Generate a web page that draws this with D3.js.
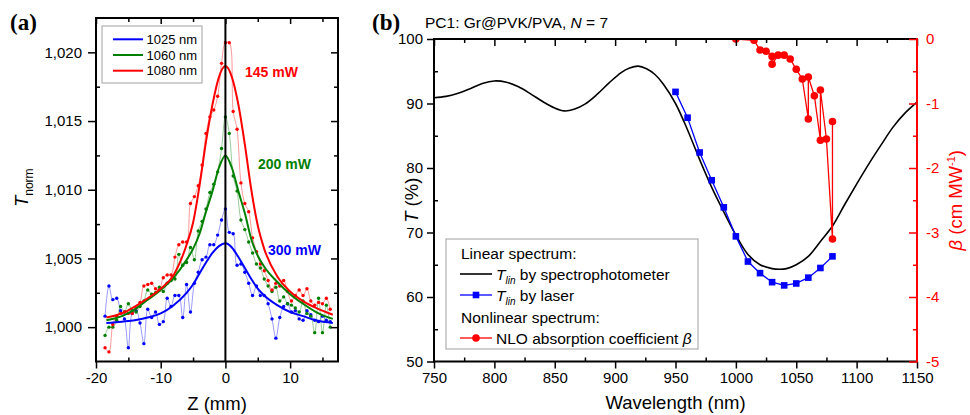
<!DOCTYPE html>
<html>
<head>
<meta charset="utf-8">
<script src="https://cdn.jsdelivr.net/npm/d3@7"></script>
<style>
body { margin: 0; background: #fff; }
svg { display: block; font-family: Arial, "Liberation Sans", sans-serif; }
</style>
</head>
<body>
<svg id="chart" width="970" height="415"></svg>
<script>
"use strict";

// ---- panel (a): z-scan, normalised transmittance ----
const zPos = [-18.6, -18.0, -17.4, -16.8, -16.2, -15.6, -15.0, -14.4, -13.8, -13.2,
    -12.6, -12.0, -11.4, -10.8, -10.2, -9.6, -9.0, -8.4, -7.8, -7.2,
    -6.6, -6.0, -5.4, -4.8, -4.2, -3.6, -3.0, -2.4, -1.8, -1.2,
    -0.6, 0, 0.6, 1.2, 1.8, 2.4, 3.0, 3.6, 4.2, 4.8,
    5.4, 6.0, 6.6, 7.2, 7.8, 8.4, 9.0, 9.6, 10.2, 10.8,
    11.4, 12.0, 12.6, 13.2, 13.8, 14.4, 15.0, 15.6, 16.2];

const tBlue = [1.0008, 1.0030, 1.0020, 1.0021, 1.0012, 1.0006, 0.9985, 1.0010, 1.0012, 1.0003,
    0.9988, 1.0013, 1.0007, 1.0011, 1.0002, 1.0004, 1.0021, 1.0015, 1.0023, 1.0023,
    1.0007, 1.0031, 1.0011, 1.0032, 1.0040, 1.0049, 1.0051, 1.0060, 1.0060, 1.0067,
    1.0078, 1.0086, 1.0069, 1.0068, 1.0045, 1.0046, 1.0040, 1.0032, 1.0023, 1.0030,
    1.0023, 1.0023, 1.0017, 1.0006, 0.9992, 1.0007, 1.0015, 1.0017, 1.0011, 1.0012,
    1.0006, 1.0005, 1.0012, 1.0009, 1.0005, 1.0004, 1.0008, 1.0005, 1.0004];

const tGreen = [0.9994, 1.0000, 1.0000, 1.0005, 1.0015, 1.0011, 1.0017, 1.0012, 1.0011, 1.0015,
    1.0019, 1.0027, 1.0024, 1.0025, 1.0029, 1.0026, 1.0032, 1.0034, 1.0035, 1.0053,
    1.0045, 1.0047, 1.0058, 1.0049, 1.0070, 1.0077, 1.0086, 1.0098, 1.0104, 1.0113,
    1.0130, 1.0153, 1.0141, 1.0110, 1.0099, 1.0078, 1.0071, 1.0062, 1.0054, 1.0046,
    1.0043, 1.0035, 1.0030, 1.0026, 1.0029, 1.0019, 1.0022, 1.0017, 1.0016, 1.0014,
    1.0011, 1.0019, 1.0010, 1.0008, 0.9996, 1.0021, 0.9996, 1.0016, 1.0000];

const tRed = [0.9985, 0.9982, 1.0002, 1.0008, 1.0010, 1.0011, 1.0010, 1.0010, 1.0014, 1.0018,
    1.0030, 1.0031, 1.0032, 1.0028, 1.0027, 1.0036, 1.0038, 1.0038, 1.0051, 1.0060,
    1.0062, 1.0062, 1.0090, 1.0095, 1.0103, 1.0118, 1.0141, 1.0153, 1.0158, 1.0168,
    1.0192, 1.0207, 1.0207, 1.0157, 1.0144, 1.0105, 1.0090, 1.0084, 1.0065, 1.0055,
    1.0046, 1.0041, 1.0034, 1.0027, 1.0032, 1.0030, 1.0034, 1.0026, 1.0019, 1.0023,
    1.0027, 1.0023, 1.0028, 1.0019, 1.0016, 1.0018, 1.0017, 1.0021, 1.0013];

// fitted curves
const fitZ = [-18.4, -16, -14, -12, -10, -8, -6, -5, -4, -3, -2, -1, 0,
    1, 2, 3, 4, 5, 6, 8, 10, 12, 14, 16.6];
const fitBlue = [1.0003, 1.0004, 1.0005, 1.0007, 1.0010, 1.0016, 1.0025, 1.0031, 1.0039, 1.0047, 1.0054, 1.0059, 1.0061,
    1.0058, 1.0051, 1.0043, 1.0035, 1.0028, 1.0023, 1.0016, 1.0011, 1.0008, 1.0005, 1.0003];
const fitGreen = [1.0005, 1.0008, 1.0013, 1.0020, 1.0027, 1.0036, 1.0049, 1.0057, 1.0068, 1.0084, 1.0099, 1.0116, 1.0125,
    1.0116, 1.0099, 1.0083, 1.0064, 1.0052, 1.0044, 1.0033, 1.0024, 1.0017, 1.0011, 1.0006];
const fitRed = [1.0007, 1.0010, 1.0015, 1.0021, 1.0028, 1.0038, 1.0060, 1.0076, 1.0103, 1.0135, 1.0162, 1.0182, 1.0190,
    1.0182, 1.0162, 1.0133, 1.0100, 1.0074, 1.0057, 1.0037, 1.0026, 1.0019, 1.0014, 1.0009];

const zTicks = [-20, -10, 0, 10],
    zMinor = [-15, -5, 5, 15];
const tnTicks = [1.000, 1.005, 1.010, 1.015, 1.020],
    tnMinor = [1.0025, 1.0075, 1.0125, 1.0175];
const waveNames = ["1025 nm", "1060 nm", "1080 nm"];
const powerNames = ["300 mW", "200 mW", "145 mW"];

// ---- panel (b): spectra ----
const specNm = [750, 760, 770, 780, 790, 800, 810, 820, 830, 840, 850, 858, 866, 875, 885, 895, 905, 912, 919, 926,
    933, 940, 950, 960, 970, 980, 990, 1000, 1010, 1020, 1030, 1036, 1042, 1050, 1060, 1070, 1080, 1090, 1100, 1110,
    1120, 1130, 1140, 1150];
const specT = [90.9, 91.1, 91.6, 92.3, 93.1, 93.5, 93.3, 92.6, 91.5, 90.3, 89.3, 88.85, 89.1, 89.9, 91.4, 93.2, 94.8, 95.5, 95.8, 95.4,
    94.5, 93.0, 90.0, 85.9, 81.3, 77.0, 73.2, 69.6, 66.6, 65.0, 64.4, 64.3, 64.4, 65.0, 66.3, 68.6, 71.0, 74.3, 77.5, 80.6,
    83.5, 86.3, 88.5, 90.2];

const laserNm = [950, 960, 970, 980, 990, 1000, 1010, 1020, 1030, 1040, 1050, 1060, 1070, 1080];
const laserT = [91.8, 87.8, 82.4, 78.1, 73.9, 69.4, 65.5, 63.7, 62.3, 61.8, 62.1, 63.0, 64.5, 66.3];

const betaNm = [1000, 1015, 1020, 1025, 1030, 1030, 1035, 1040, 1045, 1050, 1055, 1060, 1060, 1065, 1070, 1070, 1075, 1080, 1080];
const betaVal = [0.00, -0.02, -0.17, -0.19, -0.27, -0.39, -0.25, -0.25, -0.31, -0.47, -0.62, -1.24, -0.59, -0.88, -1.57, -0.79, -1.55, -3.10, -1.28];

const wlTicks = [750, 800, 850, 900, 950, 1000, 1050, 1100, 1150],
    wlMinor = [775, 825, 875, 925, 975, 1025, 1075, 1125];
const tTicks = [50, 60, 70, 80, 90, 100],
    tMinor = [55, 65, 75, 85, 95];
const bTicks = [0, -1, -2, -3, -4, -5],
    bMinor = [-0.5, -1.5, -2.5, -3.5, -4.5];

const BLUE = "#0000ff", GREEN = "#008000", RED = "#ff0000";

const svg = d3.select("#chart");

// small helper: one set of ticks (major or minor) without domain line
function addAxis(parent, gen, tr, values, size, fmt, color, pad) {
    const g = parent.append("g").attr("transform", tr);
    gen.tickValues(values)
        .tickSize(size)
        .tickSizeOuter(0)
        .tickPadding(pad || 3)
        .tickFormat(fmt || (() => ""));
    g.call(gen);
    g.select(".domain").remove();
    g.attr("font-size", 15).attr("font-family", null);
    g.selectAll(".tick line").attr("stroke", color || "#000").attr("stroke-width", 1.5);
    g.selectAll(".tick text").attr("fill", color || "#000");
    return g;
}

// =========================== panel (a)
const A = { left: 96, right: 338, top: 18, bottom: 361.5 };
const xA = d3.scaleLinear().domain([-20, 17.4]).range([A.left, A.right]);
const yA = d3.scaleLinear().domain([0.9975, 1.0225]).range([A.bottom, A.top]);

const pa = svg.append("g");

pa.append("clipPath").attr("id", "clipA")
    .append("rect")
    .attr("x", A.left).attr("y", A.top)
    .attr("width", A.right - A.left).attr("height", A.bottom - A.top);

const seriesA = [
    { t: tBlue, fit: fitBlue, color: BLUE },
    { t: tGreen, fit: fitGreen, color: GREEN },
    { t: tRed, fit: fitRed, color: RED }
];

const dataA = pa.append("g").attr("clip-path", "url(#clipA)");

const thinLine = d3.line()
    .x((d, i) => xA(zPos[i]))
    .y(d => yA(d))
    .curve(d3.curveCatmullRom);

const fitLine = d3.line()
    .x((d, i) => xA(fitZ[i]))
    .y(d => yA(d))
    .curve(d3.curveMonotoneX);

seriesA.forEach(s => {
    dataA.append("path")
        .attr("d", thinLine(s.t))
        .attr("fill", "none")
        .attr("stroke", s.color)
        .attr("stroke-opacity", 0.5)
        .attr("stroke-width", 0.8);
    dataA.append("g")
        .selectAll("circle")
        .data(s.t)
        .enter()
        .append("circle")
        .attr("cx", (d, i) => xA(zPos[i]))
        .attr("cy", d => yA(d))
        .attr("r", 1.7)
        .attr("fill", s.color);
});

seriesA.forEach(s => {
    dataA.append("path")
        .attr("d", fitLine(s.fit))
        .attr("fill", "none")
        .attr("stroke", s.color)
        .attr("stroke-width", 2);
});

// vertical line at z = 0
pa.append("line")
    .attr("x1", xA(0)).attr("x2", xA(0))
    .attr("y1", A.top).attr("y2", A.bottom)
    .attr("stroke", "#000")
    .attr("stroke-width", 2);

// axes
addAxis(pa, d3.axisBottom(xA), `translate(0,${A.bottom})`, zTicks, 7, d => String(d), null, 4);
addAxis(pa, d3.axisBottom(xA), `translate(0,${A.bottom})`, zMinor, -4);
addAxis(pa, d3.axisTop(xA), `translate(0,${A.top})`, zTicks, -6);
addAxis(pa, d3.axisTop(xA), `translate(0,${A.top})`, zMinor, -4);
addAxis(pa, d3.axisLeft(yA), `translate(${A.left},0)`, tnTicks, 8,
    d => d3.format(".3f")(d).replace(".", ","), null, 6);
addAxis(pa, d3.axisLeft(yA), `translate(${A.left},0)`, tnMinor, -4);
addAxis(pa, d3.axisRight(yA), `translate(${A.right},0)`, tnTicks, -7);
addAxis(pa, d3.axisRight(yA), `translate(${A.right},0)`, tnMinor, -4);

pa.append("rect")
    .attr("x", A.left).attr("y", A.top)
    .attr("width", A.right - A.left).attr("height", A.bottom - A.top)
    .attr("fill", "none")
    .attr("stroke", "#000")
    .attr("stroke-width", 2);

// axis titles
pa.append("text")
    .attr("x", (A.left + A.right) / 2)
    .attr("y", 410)
    .attr("text-anchor", "middle")
    .attr("font-size", 18.5)
    .text("Z (mm)");

const yTitleA = pa.append("text")
    .attr("transform", `translate(28,${(A.top + A.bottom) / 2 - 2}) rotate(-90)`)
    .attr("text-anchor", "middle")
    .attr("font-size", 18.5);
yTitleA.append("tspan").attr("font-style", "italic").text("T");
yTitleA.append("tspan").attr("font-size", 12).attr("dy", 5).text("norm");

// power labels
const powerPos = [[268, 255], [258, 169], [245, 77]];
seriesA.forEach((s, i) => {
    pa.append("text")
        .attr("x", powerPos[i][0])
        .attr("y", powerPos[i][1])
        .attr("font-size", 14)
        .attr("font-weight", "bold")
        .attr("fill", s.color)
        .text(powerNames[i]);
});

// legend (a)
const legA = pa.append("g").attr("transform", "translate(102,26)");
legA.append("rect")
    .attr("width", 100).attr("height", 57)
    .attr("fill", "#fff")
    .attr("stroke", "#a0a0a0")
    .attr("stroke-width", 1);
seriesA.forEach((s, i) => {
    const y = 13.3 + i * 15.7;
    legA.append("line")
        .attr("x1", 11).attr("x2", 41)
        .attr("y1", y).attr("y2", y)
        .attr("stroke", s.color)
        .attr("stroke-width", 2);
    legA.append("text")
        .attr("x", 44.5).attr("y", y)
        .attr("dy", "0.36em")
        .attr("font-size", 13)
        .text(waveNames[i]);
});

svg.append("text")
    .attr("x", 10).attr("y", 30)
    .attr("font-family", "'Liberation Serif', 'Times New Roman', serif")
    .attr("font-weight", "bold")
    .attr("font-size", 23)
    .text("(a)");

// =========================== panel (b)
const B = { left: 434, right: 917, top: 39, bottom: 361.5 };
const xB = d3.scaleLinear().domain([750, 1150]).range([B.left, B.right]);
const yB = d3.scaleLinear().domain([50, 100]).range([B.bottom, B.top]);
const yB2 = d3.scaleLinear().domain([-5, 0]).range([B.bottom, B.top]);

const pb = svg.append("g");

pb.append("clipPath").attr("id", "clipB")
    .append("rect")
    .attr("x", B.left).attr("y", B.top)
    .attr("width", B.right - B.left).attr("height", B.bottom - B.top);

const dataB = pb.append("g").attr("clip-path", "url(#clipB)");

// spectrophotometer
dataB.append("path")
    .attr("d", d3.line()
        .x((d, i) => xB(specNm[i]))
        .y(d => yB(d))
        .curve(d3.curveCatmullRom)(specT))
    .attr("fill", "none")
    .attr("stroke", "#000")
    .attr("stroke-width", 1.6);

// laser
dataB.append("path")
    .attr("d", d3.line()
        .x((d, i) => xB(laserNm[i]))
        .y(d => yB(d))(laserT))
    .attr("fill", "none")
    .attr("stroke", BLUE)
    .attr("stroke-width", 1.3);
dataB.append("g")
    .selectAll("rect")
    .data(laserT)
    .enter()
    .append("rect")
    .attr("x", (d, i) => xB(laserNm[i]) - 3.3)
    .attr("y", d => yB(d) - 3.3)
    .attr("width", 6.6)
    .attr("height", 6.6)
    .attr("fill", BLUE);

// beta
dataB.append("path")
    .attr("d", d3.line()
        .x((d, i) => xB(betaNm[i]))
        .y(d => yB2(d))(betaVal))
    .attr("fill", "none")
    .attr("stroke", RED)
    .attr("stroke-width", 1.3);
dataB.append("g")
    .selectAll("circle")
    .data(betaVal)
    .enter()
    .append("circle")
    .attr("cx", (d, i) => xB(betaNm[i]))
    .attr("cy", d => yB2(d))
    .attr("r", 3.8)
    .attr("fill", RED);

// axes
addAxis(pb, d3.axisBottom(xB), `translate(0,${B.bottom})`, wlTicks, 7, d => String(d), null, 4);
addAxis(pb, d3.axisBottom(xB), `translate(0,${B.bottom})`, wlMinor, -4);
addAxis(pb, d3.axisTop(xB), `translate(0,${B.top})`, wlTicks, -7);
addAxis(pb, d3.axisTop(xB), `translate(0,${B.top})`, wlMinor, -4);
addAxis(pb, d3.axisLeft(yB), `translate(${B.left},0)`, tTicks, 7, d => String(d), null, 4);
addAxis(pb, d3.axisLeft(yB), `translate(${B.left},0)`, tMinor, -4);

const frameB = pb.append("g")
    .attr("fill", "none")
    .attr("stroke-width", 2);
frameB.append("path")
    .attr("d", `M${B.right},${B.top}H${B.left}V${B.bottom}H${B.right}`)
    .attr("stroke", "#000");

addAxis(pb, d3.axisRight(yB2), `translate(${B.right},0)`, bTicks, -8, d => String(d), RED, 9);
addAxis(pb, d3.axisRight(yB2), `translate(${B.right},0)`, bMinor, -4, null, RED);
frameB.append("line")
    .attr("x1", B.right).attr("x2", B.right)
    .attr("y1", B.top - 1).attr("y2", B.bottom + 1)
    .attr("stroke", RED);

// titles
pb.append("text")
    .attr("x", (B.left + B.right) / 2)
    .attr("y", 409)
    .attr("text-anchor", "middle")
    .attr("font-size", 18.5)
    .text("Wavelength (nm)");

const yTitleB = pb.append("text")
    .attr("transform", `translate(418,${(B.top + B.bottom) / 2}) rotate(-90)`)
    .attr("text-anchor", "middle")
    .attr("font-size", 18.5);
yTitleB.append("tspan").attr("font-style", "italic").text("T");
yTitleB.append("tspan").text(" (%)");

const yTitleB2 = pb.append("text")
    .attr("transform", `translate(962,${(B.top + B.bottom) / 2}) rotate(-90)`)
    .attr("text-anchor", "middle")
    .attr("font-size", 18.5)
    .attr("fill", RED);
yTitleB2.append("tspan").attr("font-style", "italic").text("β");
yTitleB2.append("tspan").text(" (cm MW");
yTitleB2.append("tspan").attr("font-size", 11).attr("dy", -7).text("-1");
yTitleB2.append("tspan").attr("dy", 7).text(")");

const head = pb.append("text")
    .attr("x", 425).attr("y", 28)
    .attr("font-size", 15.5);
head.append("tspan").text("PC1: Gr@PVK/PVA, ");
head.append("tspan").attr("font-style", "italic").text("N");
head.append("tspan").text(" = 7");

svg.append("text")
    .attr("x", 372).attr("y", 30)
    .attr("font-family", "'Liberation Serif', 'Times New Roman', serif")
    .attr("font-weight", "bold")
    .attr("font-size", 23)
    .text("(b)");

// legend (b)
const legB = pb.append("g").attr("transform", "translate(446,239)");
legB.append("rect")
    .attr("width", 252).attr("height", 110)
    .attr("fill", "#fff")
    .attr("stroke", "#a0a0a0")
    .attr("stroke-width", 1);

const rowY = [14, 35, 56, 78, 99];
function legText(y, x) {
    return legB.append("text")
        .attr("x", x).attr("y", y)
        .attr("dy", "0.36em")
        .attr("font-size", 15.5);
}
function tLin(t) {
    t.append("tspan").attr("font-style", "italic").text("T");
    t.append("tspan").attr("font-style", "italic").attr("font-size", 10).attr("dy", 4).text("lin");
}

legText(rowY[0], 15).text("Linear spectrum:");

legB.append("line")
    .attr("x1", 14).attr("x2", 46)
    .attr("y1", rowY[1]).attr("y2", rowY[1])
    .attr("stroke", "#000").attr("stroke-width", 1.6);
const t1 = legText(rowY[1], 50);
tLin(t1);
t1.append("tspan").attr("dy", -4).text(" by spectrophotometer");

legB.append("line")
    .attr("x1", 14).attr("x2", 46)
    .attr("y1", rowY[2]).attr("y2", rowY[2])
    .attr("stroke", BLUE).attr("stroke-width", 1.3);
legB.append("rect")
    .attr("x", 30 - 3.3).attr("y", rowY[2] - 3.3)
    .attr("width", 6.6).attr("height", 6.6)
    .attr("fill", BLUE);
const t2 = legText(rowY[2], 50);
tLin(t2);
t2.append("tspan").attr("dy", -4).text(" by laser");

legText(rowY[3], 15).text("Nonlinear spectrum:");

legB.append("line")
    .attr("x1", 14).attr("x2", 46)
    .attr("y1", rowY[4]).attr("y2", rowY[4])
    .attr("stroke", RED).attr("stroke-width", 1.3);
legB.append("circle")
    .attr("cx", 30).attr("cy", rowY[4])
    .attr("r", 3.8)
    .attr("fill", RED);
const t3 = legText(rowY[4], 50);
t3.append("tspan").text("NLO absorption coefficient ");
t3.append("tspan").attr("font-style", "italic").text("β");
</script>
</body>
</html>
